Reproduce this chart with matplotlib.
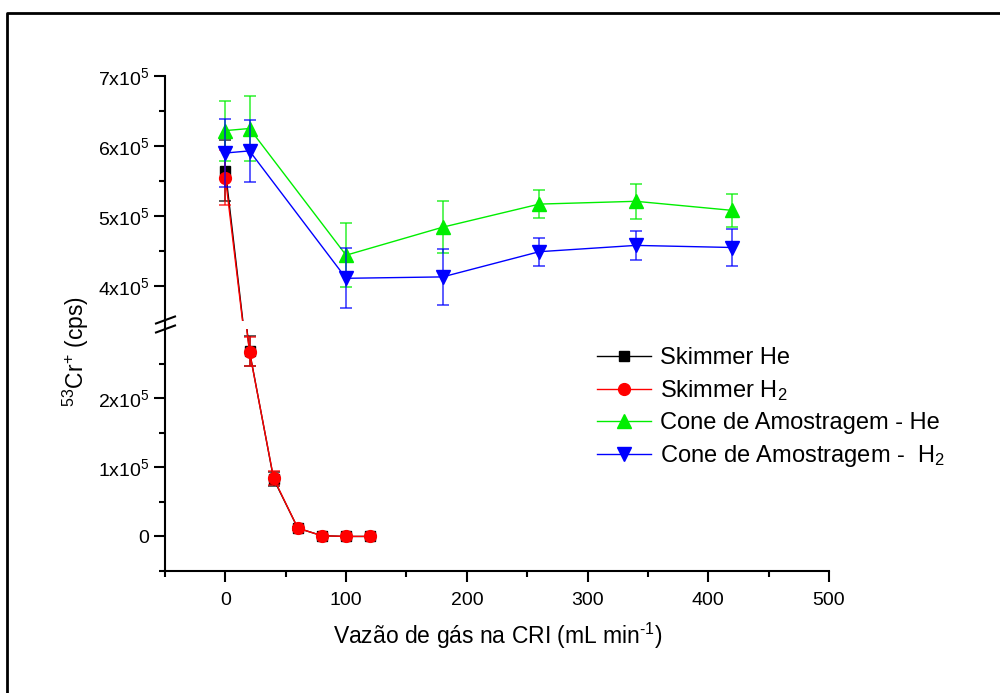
import numpy as np
import matplotlib
matplotlib.use("Agg")
import matplotlib.pyplot as plt
from matplotlib.lines import Line2D
from matplotlib.ticker import FixedLocator, FuncFormatter

plt.rcParams['font.family'] = ['Liberation Sans', 'DejaVu Sans']
plt.rcParams['mathtext.fontset'] = 'custom'
plt.rcParams['mathtext.rm'] = 'Liberation Sans'
plt.rcParams['mathtext.it'] = 'Liberation Sans:italic'

# dados
x_sk = [0, 20, 40, 60, 80, 100, 120]
sk_he = [5.65e5, 2.68e5, 0.83e5, 0.12e5, 0.01e5, 0.0, 0.0]
sk_he_err = [0.43e5, 0.22e5, 0.10e5, 0.02e5, 0.005e5, 0.003e5, 0.003e5]
sk_h2 = [5.55e5, 2.67e5, 0.84e5, 0.12e5, 0.01e5, 0.0, 0.0]
sk_h2_err = [0.39e5, 0.21e5, 0.10e5, 0.02e5, 0.005e5, 0.003e5, 0.003e5]

x_cone = [0, 20, 100, 180, 260, 340, 420]
cone_he = [6.22e5, 6.25e5, 4.44e5, 4.84e5, 5.17e5, 5.21e5, 5.08e5]
cone_he_err = [0.43e5, 0.46e5, 0.46e5, 0.37e5, 0.20e5, 0.25e5, 0.23e5]
cone_h2 = [5.90e5, 5.93e5, 4.11e5, 4.13e5, 4.49e5, 4.58e5, 4.55e5]
cone_h2_err = [0.48e5, 0.44e5, 0.43e5, 0.40e5, 0.20e5, 0.21e5, 0.27e5]

labels = ['Skimmer He', r'Skimmer H$_2$', 'Cone de Amostragem - He', r'Cone de Amostragem -  H$_2$']
series = [
    (x_sk, sk_he, sk_he_err, '#000000', 's', 7),
    (x_sk, sk_h2, sk_h2_err, '#ff0000', 'o', 8.5),
    (x_cone, cone_he, cone_he_err, '#00ee00', '^', 9.5),
    (x_cone, cone_h2, cone_h2_err, '#0000ff', 'v', 9.5),
]

W, H = 1000, 693
fig = plt.figure(figsize=(10, 6.93), dpi=100)

def fy(p):
    return 1 - p / H

left, right = 165 / W, 829 / W
ax_up = fig.add_axes([left, fy(321), right - left, fy(76) - fy(321)])
ax_lo = fig.add_axes([left, fy(571), right - left, fy(329) - fy(571)])

fs = 14
handles = []
for ax in (ax_up, ax_lo):
    for i, (x, y, e, c, m, ms) in enumerate(series):
        ax.errorbar(x, y, yerr=e, fmt='none', ecolor=c, alpha=0.75,
                    elinewidth=1.2, capsize=4.5, capthick=1.2)
        h, = ax.plot(x, y, color=c, lw=1.0, marker=m, ms=ms, mec=c, mfc=c, label=labels[i])
        if ax is ax_lo:
            handles.append(h)
    ax.set_xlim(-50, 500)
    ax.spines['top'].set_visible(False)
    ax.spines['right'].set_visible(False)
    ax.spines['left'].set_linewidth(1.5)
    ax.spines['bottom'].set_linewidth(1.5)
    ax.tick_params(which='major', direction='out', length=8, width=1.5, labelsize=fs)
    ax.tick_params(which='minor', direction='out', length=4.5, width=1.5)
    ax.patch.set_alpha(0)

def sci(v, pos):
    if v == 0:
        return '0'
    return r'%dx10$^{5}$' % round(v / 1e5)

ax_up.set_ylim(3.5e5, 7e5)
ax_up.yaxis.set_major_locator(FixedLocator([4e5, 5e5, 6e5, 7e5]))
ax_up.yaxis.set_minor_locator(FixedLocator([4.5e5, 5.5e5, 6.5e5]))
ax_up.yaxis.set_major_formatter(FuncFormatter(sci))
ax_up.spines['bottom'].set_visible(False)
ax_up.tick_params(axis='x', which='both', bottom=False, labelbottom=False)

ax_lo.set_ylim(-0.5e5, 3.0e5)
ax_lo.yaxis.set_major_locator(FixedLocator([0, 1e5, 2e5]))
ax_lo.yaxis.set_minor_locator(FixedLocator([-0.5e5, 0.5e5, 1.5e5, 2.5e5]))
ax_lo.yaxis.set_major_formatter(FuncFormatter(sci))
ax_lo.xaxis.set_major_locator(FixedLocator([0, 100, 200, 300, 400, 500]))
ax_lo.xaxis.set_minor_locator(FixedLocator([-50, 50, 150, 250, 350, 450]))
ax_lo.tick_params(axis='x', pad=7)

# quebra do eixo
fig.add_artist(Line2D([left, left], [fy(321), fy(329)], transform=fig.transFigure, color='black', lw=1.5))
for y0 in (320, 329):
    fig.add_artist(Line2D([156 / W, 175 / W], [fy(y0 + 3.5), fy(y0 - 3.5)],
                          transform=fig.transFigure, color='black', lw=1.5))

fig.text(0.076, fy(352), r'$^{53}$Cr$^{+}$ (cps)', rotation=90, ha='center', va='center', fontsize=16.5)
fig.text(0.498, fy(636), 'Vazão de gás na CRI (mL min$^{\u2010 1}$)', ha='center', va='center', fontsize=16.5)

fig.legend(handles=handles, loc='upper left', bbox_to_anchor=(597 / W, fy(347)),
           bbox_transform=fig.transFigure, frameon=False, fontsize=17,
           handlelength=2.3, handletextpad=0.35, labelspacing=0.38, borderpad=0, borderaxespad=0)

# moldura
fig.add_artist(Line2D([7 / W, 7 / W, 1.0], [0, fy(13), fy(13)], transform=fig.transFigure,
                      color='black', lw=2.0))

fig.savefig('out.png', dpi=100)
